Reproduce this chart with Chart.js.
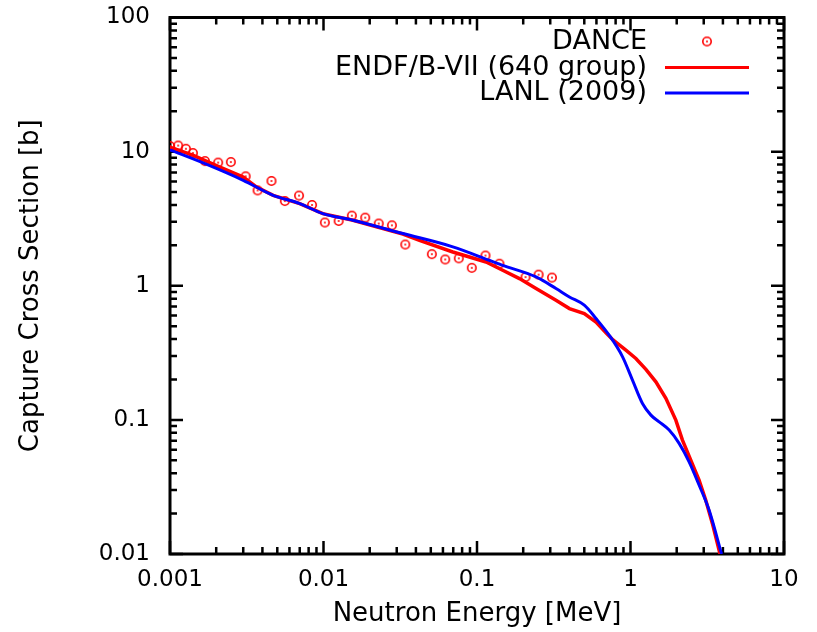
<!DOCTYPE html>
<html>
<head>
<meta charset="utf-8">
<script src="https://cdn.jsdelivr.net/npm/chart.js@4/dist/chart.umd.min.js"></script>
<style>
    html, body { margin: 0; padding: 0; background: #fff; }
    #wrap { width: 817px; height: 632px; }
</style>
</head>
<body>
<div id="wrap"><canvas id="grafico"></canvas></div>
<script>
// DANCE measured points (energy in MeV, cross section in b)
const danceEnergy = [0.00100, 0.00113, 0.00127, 0.00141, 0.00169, 0.00206, 0.00249, 0.00311, 0.00372, 0.00458,
    0.00560, 0.00693, 0.00842, 0.0102, 0.01255, 0.0153, 0.0187, 0.0229, 0.0279, 0.0341,
    0.0508, 0.0621, 0.0761, 0.0925, 0.1135, 0.140, 0.207, 0.252, 0.308];
const danceXs = [11.0, 11.1, 10.5, 9.76, 8.5, 8.28, 8.36, 6.54, 5.14, 6.04,
    4.28, 4.70, 4.0, 2.96, 3.04, 3.33, 3.22, 2.91, 2.82, 2.03,
    1.72, 1.57, 1.60, 1.36, 1.68, 1.46, 1.16, 1.21, 1.15];

// ENDF/B-VII (640 group)
const endfEnergy = [0.001, 0.00142, 0.00206, 0.0030, 0.00367, 0.0047, 0.0070, 0.0099, 0.01555, 0.0329,
    0.0422, 0.0696, 0.1145, 0.147, 0.189, 0.2425, 0.327, 0.400, 0.500, 0.596,
    0.697, 0.769, 0.933, 1.084, 1.26, 1.463, 1.70, 1.974, 2.18, 2.47,
    2.797, 3.093, 3.415, 3.775, 3.83];
const endfXs = [10.8, 9.38, 7.77, 6.46, 5.44, 4.72, 4.10, 3.45, 3.08, 2.43,
    2.18, 1.785, 1.504, 1.305, 1.131, 0.953, 0.780, 0.676, 0.621, 0.537,
    0.443, 0.395, 0.331, 0.287, 0.238, 0.192, 0.145, 0.0996, 0.0707, 0.0501,
    0.0356, 0.0252, 0.0169, 0.0107, 0.01];

// LANL (2009)
const lanlEnergy = [0.001, 0.00169, 0.0030, 0.0047, 0.0070, 0.0099, 0.01555, 0.0329, 0.0696, 0.120,
    0.147, 0.2425, 0.327, 0.400, 0.500, 0.596, 0.738, 0.888, 1.030, 1.197,
    1.358, 1.537, 1.786, 2.074, 2.409, 2.797, 3.250, 3.92];
const lanlXs = [10.3, 8.13, 6.11, 4.72, 4.10, 3.45, 3.08, 2.45, 1.95, 1.55,
    1.42, 1.163, 0.953, 0.825, 0.716, 0.570, 0.417, 0.295, 0.198, 0.1326,
    0.1085, 0.0967, 0.0839, 0.0668, 0.0487, 0.0327, 0.02127, 0.01];

const xTicks = [0.001, 0.01, 0.1, 1, 10];
const yTicks = [0.01, 0.1, 1, 10, 100];
const seriesLabels = ['DANCE', 'ENDF/B-VII (640 group)', 'LANL (2009)'];

const fonte = "'DejaVu Sans', sans-serif";
const VERMELHO = '#ff0000';
const AZUL = '#0000ff';

// circulo aberto com ponto no centro (marcador do DANCE)
const marcador = document.createElement('canvas');
marcador.width = 14;
marcador.height = 14;
const mc = marcador.getContext('2d');
mc.strokeStyle = VERMELHO;
mc.lineWidth = 1.6;
mc.beginPath(); mc.arc(7, 7, 4.2, 0, Math.PI * 2); mc.stroke();
mc.fillStyle = VERMELHO;
mc.beginPath(); mc.arc(7, 7, 1.0, 0, Math.PI * 2); mc.fill();

const pares = (xs, ys) => xs.map((x, i) => ({ x, y: ys[i] }));

// moldura e marcas para dentro nos quatro lados
const molduraPlugin = {
    id: 'moldura',
    beforeDatasetsDraw(chart) {
        const { ctx, chartArea: a, scales: { x, y } } = chart;
        ctx.save();
        ctx.strokeStyle = '#000';
        ctx.lineWidth = 2.5;
        ctx.beginPath();
        const marcasX = (v, len) => {
            const px = x.getPixelForValue(v);
            ctx.moveTo(px, a.bottom); ctx.lineTo(px, a.bottom - len);
            ctx.moveTo(px, a.top); ctx.lineTo(px, a.top + len);
        };
        const marcasY = (v, len) => {
            const py = y.getPixelForValue(v);
            ctx.moveTo(a.left, py); ctx.lineTo(a.left + len, py);
            ctx.moveTo(a.right, py); ctx.lineTo(a.right - len, py);
        };
        xTicks.forEach((d, i) => {
            marcasX(d, 13);
            if (i < xTicks.length - 1) for (let k = 2; k < 10; k++) marcasX(d * k, 7);
        });
        yTicks.forEach((d, i) => {
            marcasY(d, 13);
            if (i < yTicks.length - 1) for (let k = 2; k < 10; k++) marcasY(d * k, 7);
        });
        ctx.stroke();
        ctx.lineWidth = 3;
        ctx.strokeRect(a.left, a.top, a.right - a.left, a.bottom - a.top);
        ctx.restore();
    }
};

// legenda no estilo gnuplot: texto a direita alinhado, amostra depois
const legendaPlugin = {
    id: 'legendaGnuplot',
    afterDraw(chart) {
        const { ctx } = chart;
        const textoDir = 647, amostraIni = 665, amostraFim = 749;
        const linhas = [41.5, 67.5, 93];
        ctx.save();
        ctx.font = '27px ' + fonte;
        ctx.fillStyle = '#000';
        ctx.textAlign = 'right';
        ctx.textBaseline = 'middle';
        chart.data.datasets.forEach((ds, i) => {
            const yy = linhas[i];
            ctx.fillText(ds.label, textoDir, yy);
            if (ds.showLine) {
                ctx.strokeStyle = ds.borderColor;
                ctx.lineWidth = 3;
                ctx.beginPath();
                ctx.moveTo(amostraIni, yy);
                ctx.lineTo(amostraFim, yy);
                ctx.stroke();
            } else {
                ctx.drawImage(marcador, (amostraIni + amostraFim) / 2 - 7, yy - 7);
            }
        });
        ctx.restore();
    }
};

// sem folga extra dos rotulos: a area do grafico fica onde a moldura original esta
const semFolga = s => {
    s.paddingTop = 0; s.paddingBottom = 0;
    s.paddingLeft = 0; s.paddingRight = 0;
};

new Chart(document.getElementById('grafico').getContext('2d'), {
    type: 'scatter',
    data: {
        datasets: [
            {
                label: seriesLabels[0],
                data: pares(danceEnergy, danceXs),
                showLine: false,
                pointStyle: marcador,
                pointRadius: 5,
                order: 2
            },
            {
                label: seriesLabels[1],
                data: pares(endfEnergy, endfXs),
                showLine: true,
                borderColor: VERMELHO,
                borderWidth: 3.5,
                pointRadius: 0,
                tension: 0,
                order: 1
            },
            {
                label: seriesLabels[2],
                data: pares(lanlEnergy, lanlXs),
                showLine: true,
                borderColor: AZUL,
                borderWidth: 3,
                pointRadius: 0,
                cubicInterpolationMode: 'monotone',
                order: 0
            }
        ]
    },
    options: {
        responsive: true,
        maintainAspectRatio: false,
        animation: false,
        devicePixelRatio: 1,
        layout: { padding: { left: 0, top: 17.5, right: 33, bottom: 0 } },
        plugins: {
            legend: { display: false },
            tooltip: { enabled: false }
        },
        scales: {
            x: {
                type: 'logarithmic',
                position: 'bottom',
                min: 0.001,
                max: 10,
                afterBuildTicks: s => { s.ticks = xTicks.map(v => ({ value: v })); },
                afterFit: s => { s.height = 78; semFolga(s); },
                grid: { display: false, drawTicks: false },
                border: { display: false },
                ticks: {
                    color: '#000',
                    font: { family: fonte, size: 23 },
                    padding: 12,
                    maxRotation: 0,
                    autoSkip: false,
                    callback: v => String(v)
                },
                title: {
                    display: true,
                    text: 'Neutron Energy [MeV]',
                    color: '#000',
                    font: { family: fonte, size: 26 },
                    padding: { top: 0, bottom: 2 }
                }
            },
            y: {
                type: 'logarithmic',
                position: 'left',
                min: 0.01,
                max: 100,
                afterBuildTicks: s => { s.ticks = yTicks.map(v => ({ value: v })); },
                afterFit: s => { s.width = 170; semFolga(s); },
                grid: { display: false, drawTicks: false },
                border: { display: false },
                ticks: {
                    color: '#000',
                    font: { family: fonte, size: 23 },
                    padding: 20,
                    autoSkip: false,
                    callback: v => String(v)
                },
                title: {
                    display: true,
                    text: 'Capture Cross Section [b]',
                    color: '#000',
                    font: { family: fonte, size: 26 },
                    padding: { top: 16, bottom: 0 }
                }
            }
        }
    },
    plugins: [molduraPlugin, legendaPlugin]
});
</script>
</body>
</html>
